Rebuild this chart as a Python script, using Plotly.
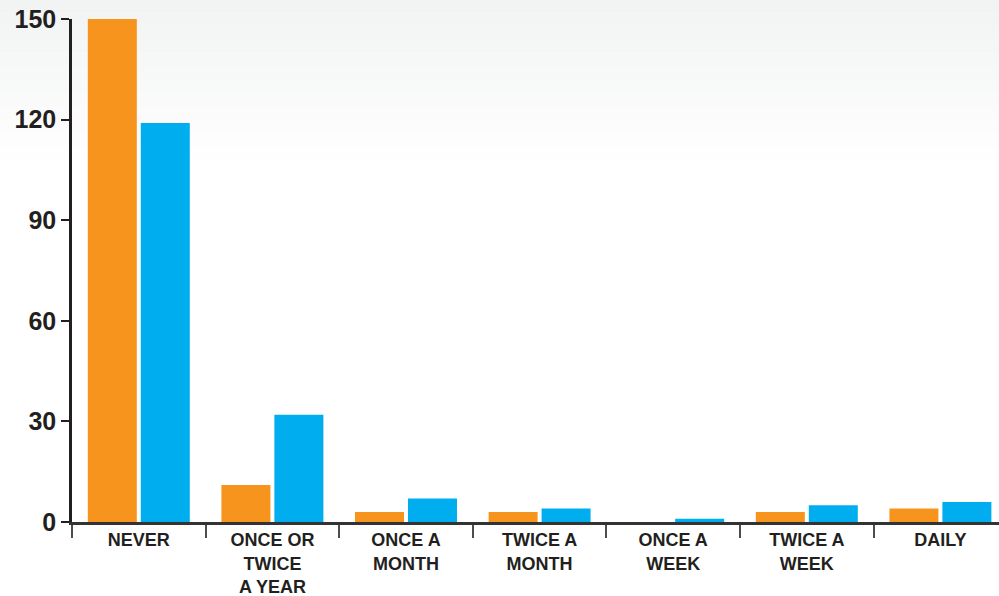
import plotly.graph_objects as go

categories = ["NEVER", "ONCE OR<br>TWICE<br>A YEAR", "ONCE A<br>MONTH", "TWICE A<br>MONTH",
              "ONCE A<br>WEEK", "TWICE A<br>WEEK", "DAILY"]
series_orange = [150, 11, 3, 3, 0, 3, 4]
series_blue = [119, 32, 7, 4, 1, 5, 6]
y_ticks = [0, 30, 60, 90, 120, 150]

W, H = 999, 596
ML, MR, MT, MB = 72, 0, 19, 74
PW, PH = W - ML - MR, H - MT - MB

fig = go.Figure()
fig.add_trace(go.Bar(x=categories, y=series_orange, marker=dict(color="#f7941d", line=dict(width=0)),
                     showlegend=False, hoverinfo="x+y"))
fig.add_trace(go.Bar(x=categories, y=series_blue, marker=dict(color="#00aeef", line=dict(width=0)),
                     showlegend=False, hoverinfo="x+y"))

# background gradient (top light gray fading to white)
shapes = []
nb = 12
grad_h = 160
for i in range(nb):
    y0px = i * grad_h / nb
    y1px = (i + 1) * grad_h / nb
    t = i / nb
    c = int(round(242 + (255 - 242) * t))
    c2 = int(round(243 + (255 - 243) * t))
    shapes.append(dict(
        type="rect", xref="paper", yref="paper", layer="below",
        x0=-ML / PW, x1=1.0,
        y0=(H - MB - y1px) / PH, y1=(H - MB - y0px) / PH,
        fillcolor=f"rgb({c},{c2},{c2})", line=dict(width=0),
    ))

cat_px = 133.6
fig.update_layout(
    width=W, height=H,
    margin=dict(l=ML, r=MR, t=MT, b=MB, pad=0, autoexpand=False),
    paper_bgcolor="white", plot_bgcolor="rgba(0,0,0,0)",
    barmode="group", bargap=0.207, bargroupgap=0.075,
    shapes=shapes,
    font=dict(family="Liberation Sans, Arial, sans-serif", color="#231f20"),
    xaxis=dict(
        type="category", range=[-0.5, -0.5 + PW / cat_px], automargin=False,
        tickson="boundaries", ticks="outside", ticklen=13, tickwidth=1.5, tickcolor="#4d4d4d",
        showline=True, linecolor="#333333", linewidth=2.5,
        showgrid=False, zeroline=False,
        tickfont=dict(size=18, family="Liberation Sans, Arial, sans-serif", color="#231f20", weight="bold"),
        fixedrange=True,
    ),
    yaxis=dict(
        range=[0, 150], tickvals=y_ticks, ticks="outside", ticklen=8, tickwidth=1.5, tickcolor="#231f20",
        showline=True, linecolor="#231f20", linewidth=2.5, automargin=False,
        showgrid=False, zeroline=False,
        tickfont=dict(size=25, family="Liberation Sans, Arial, sans-serif", color="#231f20", weight="bold"),
        ticklabelstandoff=0,
        fixedrange=True,
    ),
)

fig.write_html("out.html", config={"displayModeBar": False},
               post_script="document.body.style.margin='0';document.body.style.overflow='hidden';")
